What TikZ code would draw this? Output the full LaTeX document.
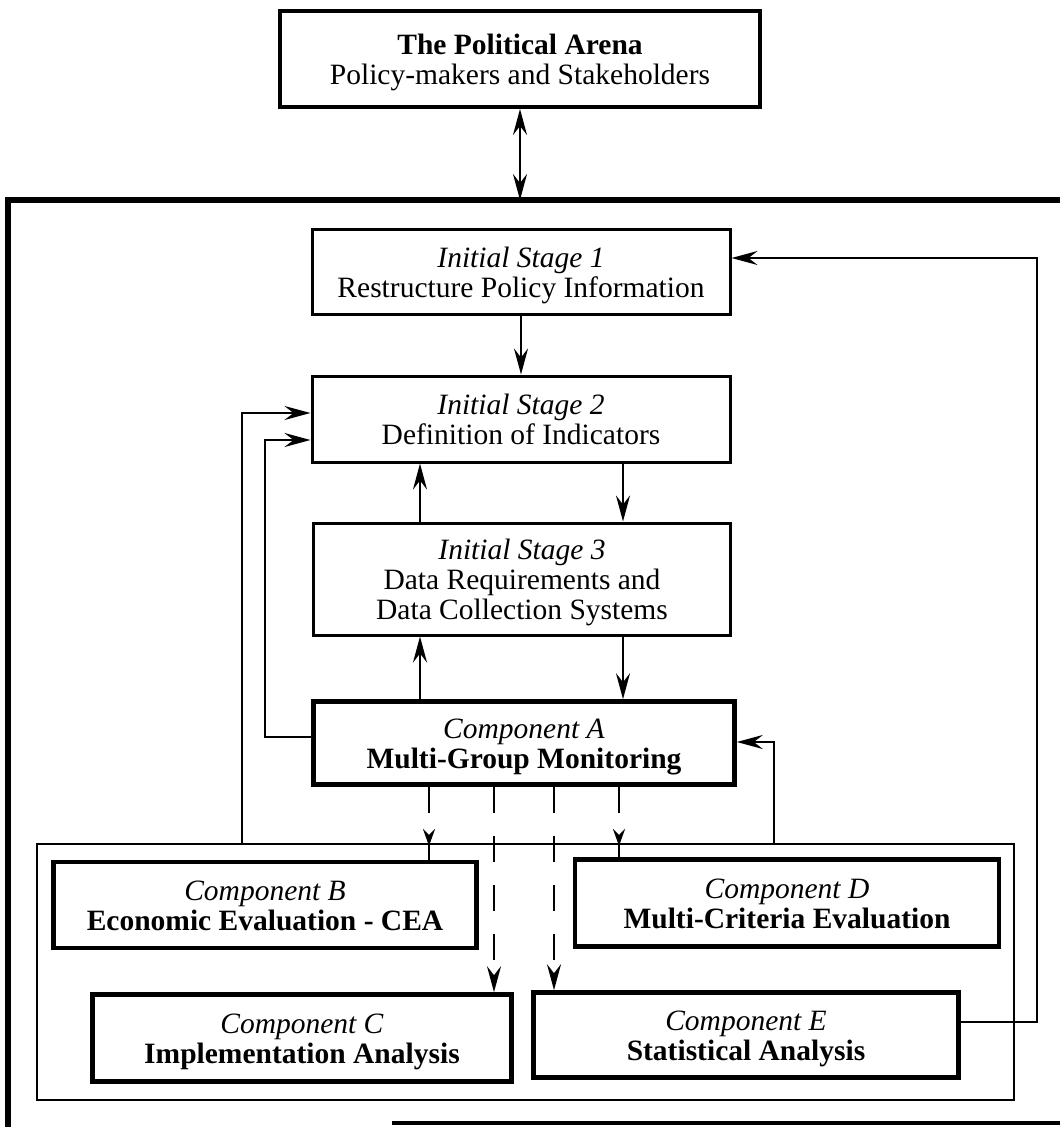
\documentclass[tikz,border=0pt]{standalone}
\usepackage{fontspec}
\setmainfont{Liberation Serif}
\usetikzlibrary{arrows.meta}
% centred block of lines, lowered a little inside its box
\newcommand\boxlines[1]{\raisebox{-11pt}[0pt][0pt]{\begin{tabular}{@{}c@{}}#1\end{tabular}}}
\begin{document}
\begin{tikzpicture}[x=1pt,y=-1pt,
  txt/.style={font=\fontsize{29.5}{30}\selectfont},
  stagebox/.style={draw,line width=3pt,inner sep=0pt,txt},
  compbox/.style={draw,line width=4.6pt,inner sep=0pt,txt},
  tip/.tip={Stealth[length=26pt,width=14pt,inset=9pt]},
  link/.style={line width=2.3pt,-tip},
  dlink/.style={link,dash pattern=on 26pt off 23pt}
]
\useasboundingbox (0,0) rectangle (1060,1127);

% frames
\draw[line width=5.5pt] (1065,200) -- (8,200) -- (8,1130);
\draw[line width=4pt] (392,1123) -- (1065,1123);
\draw[line width=2.6pt] (37,844) rectangle (1014,1100);
\coordinate (outertop) at (520,200);

% nodes
\node[compbox,line width=4pt,minimum width=480pt,minimum height=96pt] (arena) at (520,59)
  {\boxlines{\textbf{The Political Arena}\\Policy-makers and Stakeholders}};
\node[stagebox,minimum width=418pt,minimum height=85pt] (s1) at (521,272)
  {\boxlines{\textit{Initial Stage 1}\\Restructure Policy Information}};
\node[stagebox,minimum width=418pt,minimum height=86pt] (s2) at (521,419)
  {\boxlines{\textit{Initial Stage 2}\\Definition of Indicators}};
\node[stagebox,minimum width=417pt,minimum height=112pt] (s3) at (522,579)
  {\boxlines{\textit{Initial Stage 3}\\Data Requirements and\\Data Collection Systems}};
\node[compbox,minimum width=421pt,minimum height=83pt] (A) at (524,743)
  {\boxlines{\textit{Component A}\\\textbf{Multi-Group Monitoring}}};
\node[compbox,minimum width=423pt,minimum height=86pt] (B) at (265,905)
  {\boxlines{\textit{Component B}\\\textbf{Economic Evaluation - CEA}}};
\node[compbox,minimum width=424pt,minimum height=87pt] (D) at (787,903)
  {\boxlines{\textit{Component D}\\\textbf{Multi-Criteria Evaluation}}};
\node[compbox,minimum width=419pt,minimum height=87pt] (C) at (302,1038)
  {\boxlines{\textit{Component C}\\\textbf{Implementation Analysis}}};
\node[compbox,minimum width=425pt,minimum height=85pt] (E) at (746,1035)
  {\boxlines{\textit{Component E}\\\textbf{Statistical Analysis}}};

% points where the feedback lines leave the inner frame
\coordinate (fl) at (242,844);
\coordinate (fr) at (774,844);
\coordinate (eout) at (1037,1022);

% vertical flow
\draw[link,tip-tip] (arena.south) -- (outertop);
\draw[link] (s1.south) -- (s2.north);
\draw[link] (s2.south -| 623,0) -- (s3.north -| 623,0);
\draw[link] (s3.north -| 420,0) -- (s2.south -| 420,0);
\draw[link] (s3.south -| 623,0) -- (A.north -| 623,0);
\draw[link] (A.north -| 420,0) -- (s3.south -| 420,0);

% feedback loops
\draw[link] (A.west |- 0,737) -| (265,440) -- (s2.west |- 0,440);
\draw[link] (fl) -- (242,413) -- (s2.west |- 0,413);
\draw[link] (fr) -- (774,742) -- (A.east |- 0,742);
\draw[link] (E.east |- eout) -- (eout) -- (1037,258) -- (s1.east |- 0,258);

% dashed links from Component A
\draw[dlink,-{Stealth[length=17pt,width=12pt,inset=6pt]}] (A.south -| 429,0) -- (429,846);
\draw[line width=2.3pt] (429,844) -- (B.north -| 429,0);
\draw[dlink,-{Stealth[length=17pt,width=12pt,inset=6pt]}] (A.south -| 619,0) -- (619,846);
\draw[line width=2.3pt] (619,844) -- (D.north -| 619,0);
\draw[dlink] (A.south -| 494,0) -- (C.north -| 494,0);
\draw[dlink] (A.south -| 554,0) -- (E.north -| 554,0);
\end{tikzpicture}
\end{document}
